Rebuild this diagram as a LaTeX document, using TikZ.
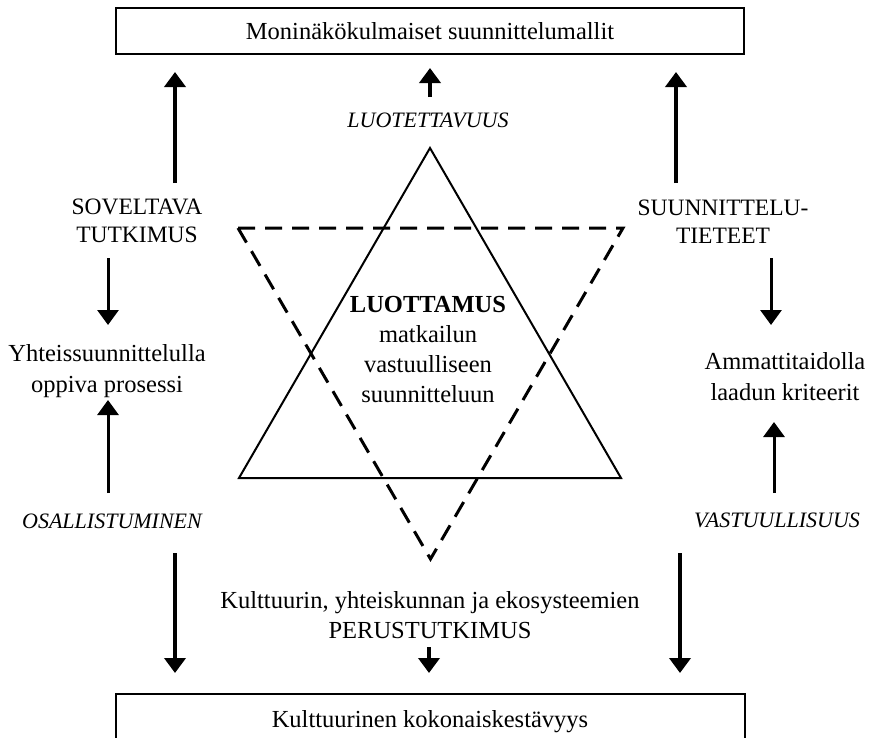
\documentclass[tikz,border=0pt]{standalone}
\usepackage{fontspec}
\setmainfont{Liberation Serif}
\usetikzlibrary{arrows.meta}
\tikzset{
  lbl/.style={font=\fontsize{24.5}{31}\selectfont, align=center, inner sep=0pt, anchor=base},
  caps/.style={lbl, font=\fontsize{23.5}{28}\selectfont},
  ital/.style={lbl, font=\fontsize{22}{28}\selectfont\itshape},
  frame/.style={draw, line width=2pt},
  arr/.style={line width=4pt, -{Triangle[width=21pt,length=15pt]}},
  thinarr/.style={line width=3pt, -{Triangle[width=21pt,length=15pt]}},
  solidtri/.style={draw, line width=2pt, line join=miter},
  dashtri/.style={draw, line width=3pt, dash pattern=on 17pt off 10pt},
}
\begin{document}
\begin{tikzpicture}[x=1pt,y=-1pt]
\useasboundingbox (0,0) rectangle (873,737);
\clip (0,0) rectangle (873,737);

% boxes
\draw[frame] (116,8) rectangle (744,54);
\node[lbl] (top) at (430,39) {Moninäkökulmaiset suunnittelumallit};
\draw[frame] (116,694) rectangle (745,760);
\node[lbl] (bottom) at (430,727) {Kulttuurinen kokonaiskestävyys};

% triangles (multi-line nodes below are anchored at their last baseline)
\path[solidtri] (430,148) -- (239,478) -- (621,478) -- cycle;
\path[dashtri] (238,228) -- (623,228) -- (430.5,559) -- cycle;

% central text
\node[lbl, font=\fontsize{24.5}{30}\selectfont] (core) at (428,402) {\textbf{LUOTTAMUS}\\matkailun\\vastuulliseen\\suunnitteluun};

% labels
\node[ital] (luot) at (428,127) {LUOTETTAVUUS};
\node[caps] (sov) at (137,242) {SOVELTAVA\\TUTKIMUS};
\node[caps] (suun) at (723,243) {SUUNNITTELU-\\TIETEET};
\node[lbl] (yht) at (107,392) {Yhteissuunnittelulla\\oppiva prosessi};
\node[lbl] (amm) at (785,400) {Ammattitaidolla\\laadun kriteerit};
\node[ital] (osa) at (112,528) {OSALLISTUMINEN};
\node[ital] (vas) at (777,527) {VASTUULLISUUS};
\node[lbl, font=\fontsize{24.5}{30}\selectfont] (perus) at (430,638) {Kulttuurin, yhteiskunnan ja ekosysteemien\\PERUSTUTKIMUS};

% arrow end points
\coordinate (a1s) at (175,183); \coordinate (a1e) at (175,72);
\coordinate (a2s) at (430,97);  \coordinate (a2e) at (430,68);
\coordinate (a3s) at (676,183); \coordinate (a3e) at (676,72);
\coordinate (b1s) at (108,258); \coordinate (b1e) at (108,325);
\coordinate (b2s) at (771,258); \coordinate (b2e) at (771,325);
\coordinate (c1s) at (108,493); \coordinate (c1e) at (108,400);
\coordinate (c2s) at (774,493); \coordinate (c2e) at (774,422);
\coordinate (d1s) at (175,553); \coordinate (d1e) at (175,673);
\coordinate (d2s) at (429,647); \coordinate (d2e) at (429,673);
\coordinate (d3s) at (680,553); \coordinate (d3e) at (680,673);

\draw[arr] (a1s) -- (a1e);
\draw[arr] (a2s) -- (a2e);
\draw[arr] (a3s) -- (a3e);
\draw[thinarr] (b1s) -- (b1e);
\draw[thinarr] (b2s) -- (b2e);
\draw[thinarr] (c1s) -- (c1e);
\draw[thinarr] (c2s) -- (c2e);
\draw[arr] (d1s) -- (d1e);
\draw[arr] (d2s) -- (d2e);
\draw[arr] (d3s) -- (d3e);
\end{tikzpicture}
\end{document}
